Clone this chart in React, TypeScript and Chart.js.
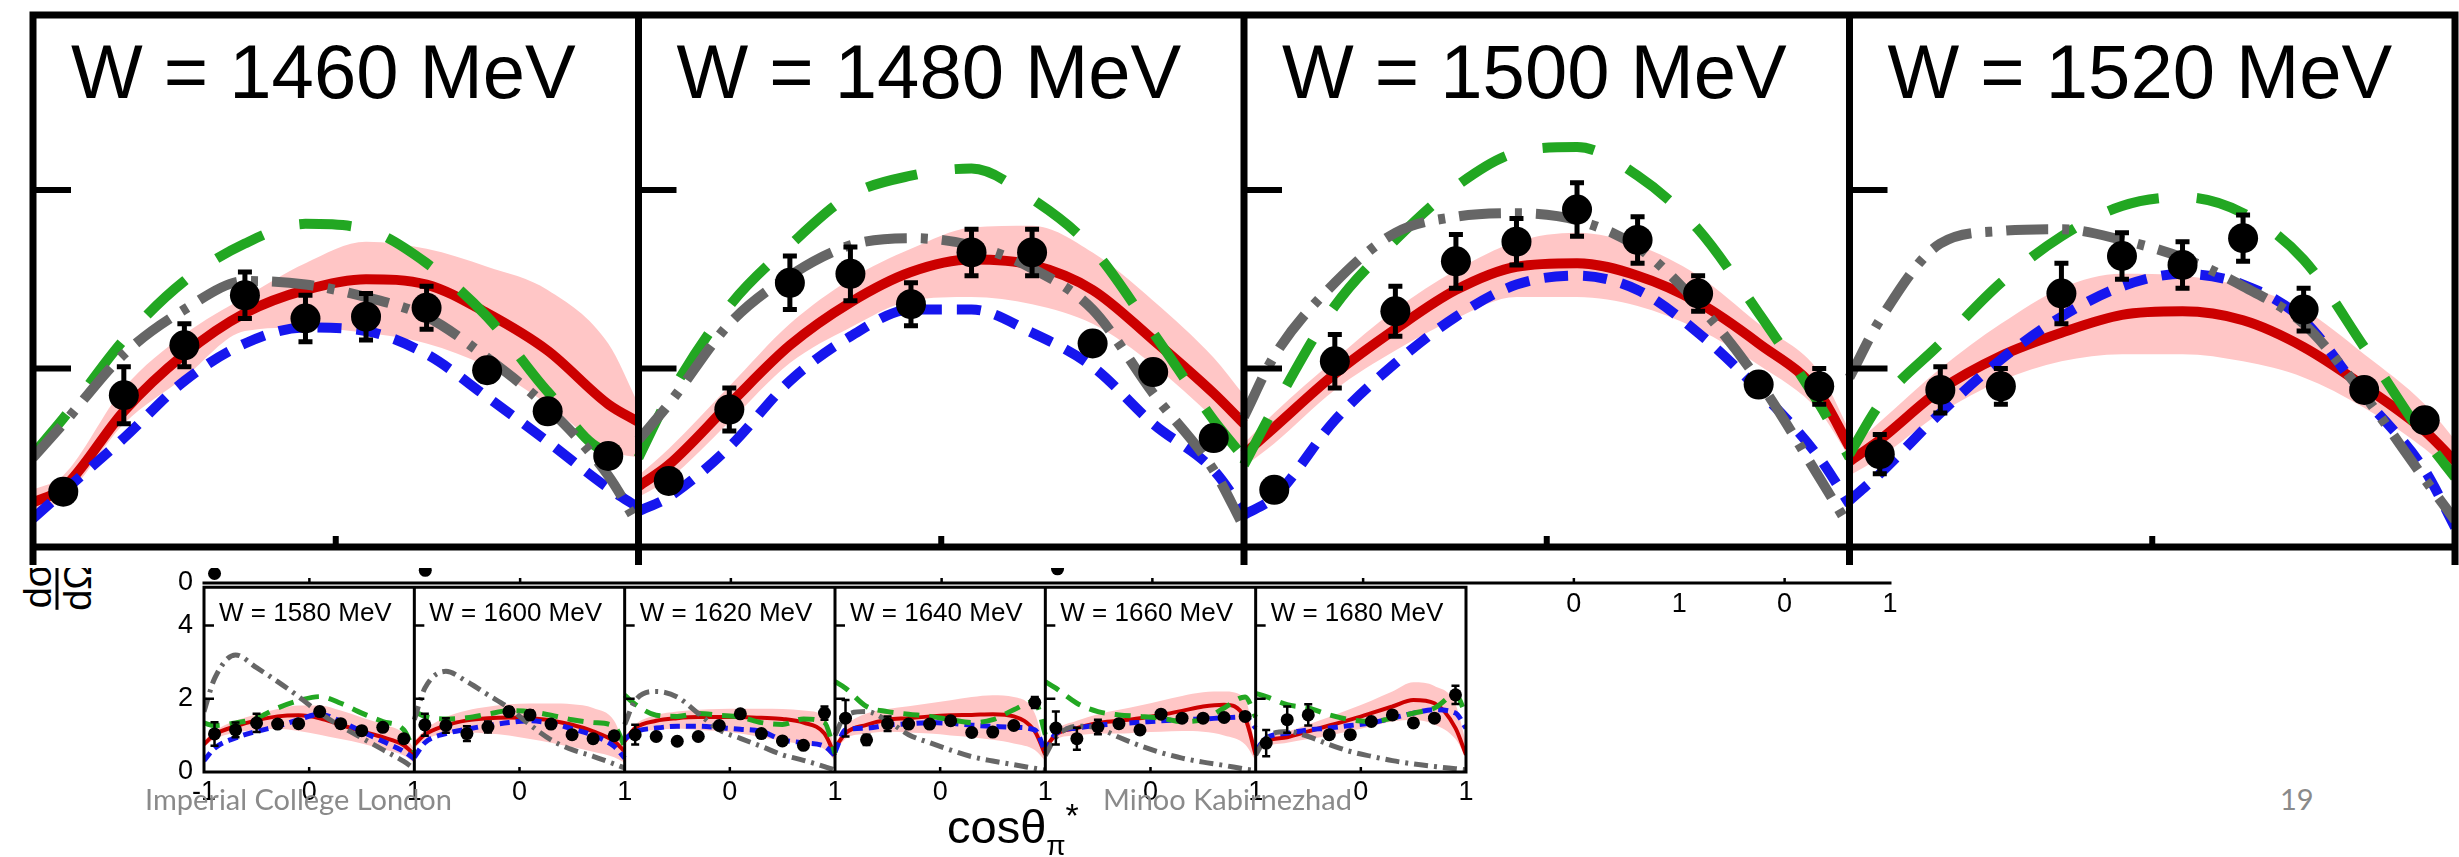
import React, { useEffect, useRef } from 'react';
import { Chart, registerables } from 'chart.js';

Chart.register(...registerables);

// ---------------- shared grids (cos theta) ----------------
const CURVE_COS = [-1, -0.9, -0.7, -0.5, -0.3, -0.1, 0.1, 0.3, 0.5, 0.7, 0.9, 1];
const POINT_COS = [-0.9, -0.7, -0.5, -0.3, -0.1, 0.1, 0.3, 0.5, 0.7, 0.9];

// ---------------- top row ----------------
const TOP_LABELS = ['W = 1460 MeV', 'W = 1480 MeV', 'W = 1500 MeV', 'W = 1520 MeV'];
const TOP_Y_TICKS = [1, 2];
const TOP_X_TICKS = [0];

const W1460_POINTS = [0.31, 0.85, 1.13, 1.41, 1.28, 1.29, 1.34, 0.99, 0.76, 0.51];
const W1460_ERRORS = [0.05, 0.16, 0.12, 0.13, 0.13, 0.13, 0.12, 0.06, 0.06, 0.05];
const W1460_RED = [0.25, 0.33, 0.76, 1.08, 1.31, 1.44, 1.5, 1.47, 1.31, 1.1, 0.8, 0.7];
const W1460_BAND_HI = [0.32, 0.4, 0.89, 1.19, 1.4, 1.59, 1.71, 1.67, 1.57, 1.44, 1.14, 0.8];
const W1460_BAND_LO = [0.2, 0.27, 0.69, 0.95, 1.21, 1.23, 1.2, 1.14, 1.01, 0.8, 0.54, 0.5];
const W1460_BLUE = [0.16, 0.31, 0.61, 0.93, 1.14, 1.23, 1.21, 1.08, 0.84, 0.59, 0.33, 0.22];
const W1460_GREEN = [0.52, 0.72, 1.16, 1.49, 1.7, 1.81, 1.78, 1.59, 1.29, 0.87, 0.54, 0.55];
const W1460_GRAY = [0.5, 0.69, 1.08, 1.33, 1.49, 1.47, 1.4, 1.29, 1.06, 0.78, 0.4, 0.12];

const W1480_POINTS = [0.37, 0.77, 1.48, 1.53, 1.36, 1.65, 1.65, 1.14, 0.98, 0.61];
const W1480_ERRORS = [0.05, 0.12, 0.15, 0.15, 0.12, 0.13, 0.13, 0.05, 0.05, 0.05];
const W1480_RED = [0.34, 0.46, 0.8, 1.13, 1.37, 1.54, 1.61, 1.58, 1.44, 1.16, 0.86, 0.69];
const W1480_BAND_HI = [0.4, 0.55, 0.9, 1.25, 1.5, 1.67, 1.79, 1.8, 1.65, 1.38, 1.06, 0.85];
const W1480_BAND_LO = [0.28, 0.38, 0.7, 1.03, 1.23, 1.38, 1.4, 1.36, 1.25, 1.02, 0.72, 0.55];
const W1480_BLUE = [0.2, 0.28, 0.56, 0.93, 1.18, 1.33, 1.33, 1.2, 1.01, 0.69, 0.43, 0.2];
const W1480_GREEN = [0.5, 0.84, 1.35, 1.69, 1.97, 2.08, 2.12, 1.95, 1.67, 1.2, 0.71, 0.5];
const W1480_GRAY = [0.6, 0.8, 1.25, 1.52, 1.69, 1.73, 1.69, 1.56, 1.33, 0.86, 0.43, 0.11];

const W1500_POINTS = [0.32, 1.04, 1.32, 1.6, 1.71, 1.89, 1.72, 1.42, 0.91, 0.9];
const W1500_ERRORS = [0.05, 0.15, 0.14, 0.15, 0.13, 0.15, 0.13, 0.1, 0.05, 0.1];
const W1500_RED = [0.52, 0.67, 0.97, 1.22, 1.44, 1.57, 1.59, 1.52, 1.37, 1.14, 0.86, 0.56];
const W1500_BAND_HI = [0.58, 0.75, 1.05, 1.33, 1.55, 1.71, 1.76, 1.69, 1.52, 1.25, 0.98, 0.65];
const W1500_BAND_LO = [0.45, 0.58, 0.88, 1.1, 1.28, 1.4, 1.4, 1.35, 1.22, 1.02, 0.76, 0.5];
const W1500_BLUE = [0.18, 0.28, 0.71, 1.03, 1.29, 1.47, 1.52, 1.44, 1.2, 0.88, 0.5, 0.24];
const W1500_GREEN = [0.46, 0.78, 1.35, 1.72, 2.02, 2.21, 2.24, 2.08, 1.78, 1.31, 0.8, 0.5];
const W1500_GRAY = [0.73, 1.07, 1.48, 1.76, 1.85, 1.87, 1.83, 1.68, 1.36, 0.93, 0.39, 0.11];

const W1520_POINTS = [0.52, 0.88, 0.9, 1.42, 1.63, 1.58, 1.73, 1.33, 0.88, 0.71];
const W1520_ERRORS = [0.11, 0.13, 0.1, 0.17, 0.13, 0.13, 0.13, 0.12, 0.05, 0.05];
const W1520_RED = [0.48, 0.6, 0.88, 1.07, 1.2, 1.3, 1.32, 1.27, 1.12, 0.9, 0.65, 0.48];
const W1520_BAND_HI = [0.55, 0.7, 1.0, 1.25, 1.45, 1.53, 1.52, 1.46, 1.33, 1.08, 0.8, 0.6];
const W1520_BAND_LO = [0.4, 0.5, 0.75, 0.93, 1.04, 1.08, 1.08, 1.04, 0.95, 0.78, 0.55, 0.4];
const W1520_BLUE = [0.26, 0.41, 0.75, 1.05, 1.29, 1.46, 1.53, 1.47, 1.27, 0.84, 0.43, 0.11];
const W1520_GREEN = [0.52, 0.8, 1.14, 1.48, 1.74, 1.91, 1.96, 1.87, 1.61, 1.12, 0.61, 0.39];
const W1520_GRAY = [0.95, 1.27, 1.7, 1.77, 1.78, 1.72, 1.62, 1.46, 1.25, 0.85, 0.38, 0.15];

// ---------------- bottom row ----------------
const BOTTOM_LABELS = ['W = 1580 MeV', 'W = 1600 MeV', 'W = 1620 MeV', 'W = 1640 MeV', 'W = 1660 MeV', 'W = 1680 MeV'];
const BOTTOM_Y_TICKS = [0, 2, 4];
const BOTTOM_X_TICKS = [-1, 0, 1];

const W1580_POINTS = [1.04, 1.15, 1.34, 1.31, 1.32, 1.65, 1.32, 1.13, 1.22, 0.91];
const W1580_ERRORS = [0.32, 0.2, 0.25, 0.1, 0.08, 0.1, 0.08, 0.08, 0.08, 0.08];
const W1580_RED = [0.76, 1.02, 1.25, 1.41, 1.52, 1.55, 1.47, 1.29, 1.11, 0.95, 0.73, 0.47];
const W1580_BAND_HI = [0.85, 1.12, 1.4, 1.58, 1.72, 1.82, 1.82, 1.68, 1.49, 1.3, 1.05, 0.6];
const W1580_BAND_LO = [0.68, 0.9, 1.08, 1.15, 1.18, 1.12, 1.02, 0.9, 0.78, 0.62, 0.45, 0.25];
const W1580_BLUE = [0.31, 0.65, 0.93, 1.11, 1.25, 1.43, 1.58, 1.38, 1.11, 0.84, 0.56, 0.36];
const W1580_GREEN = [1.34, 1.27, 1.34, 1.47, 1.75, 1.95, 2.06, 1.88, 1.61, 1.38, 1.15, 0.56];
const W1580_GRAY = [1.65, 2.55, 3.2, 2.85, 2.47, 2.06, 1.61, 1.25, 0.93, 0.61, 0.29, 0.09];

const W1600_POINTS = [1.29, 1.27, 1.05, 1.23, 1.65, 1.56, 1.31, 1.02, 0.91, 0.99];
const W1600_ERRORS = [0.3, 0.2, 0.2, 0.15, 0.12, 0.12, 0.08, 0.08, 0.08, 0.08];
const W1600_RED = [0.75, 1.02, 1.27, 1.41, 1.47, 1.49, 1.47, 1.41, 1.29, 1.11, 0.84, 0.56];
const W1600_BAND_HI = [0.85, 1.15, 1.5, 1.68, 1.78, 1.85, 1.87, 1.87, 1.85, 1.75, 1.4, 0.7];
const W1600_BAND_LO = [0.65, 0.88, 1.05, 1.08, 1.05, 1.0, 0.9, 0.8, 0.68, 0.55, 0.4, 0.25];
const W1600_BLUE = [0.4, 0.8, 1.05, 1.17, 1.27, 1.35, 1.4, 1.33, 1.18, 1.0, 0.7, 0.38];
const W1600_GREEN = [1.65, 1.52, 1.45, 1.48, 1.58, 1.68, 1.65, 1.55, 1.43, 1.35, 1.25, 0.7];
const W1600_GRAY = [1.43, 2.29, 2.75, 2.47, 2.11, 1.75, 1.29, 0.88, 0.61, 0.43, 0.22, 0.11];

const W1620_POINTS = [1.02, 0.97, 0.84, 0.97, 1.27, 1.59, 1.05, 0.85, 0.73, 1.61];
const W1620_ERRORS = [0.27, 0.08, 0.08, 0.08, 0.08, 0.1, 0.08, 0.08, 0.08, 0.18];
const W1620_RED = [0.85, 1.2, 1.4, 1.47, 1.5, 1.5, 1.5, 1.48, 1.45, 1.35, 1.05, 0.45];
const W1620_BAND_HI = [0.95, 1.3, 1.55, 1.65, 1.7, 1.72, 1.73, 1.73, 1.72, 1.68, 1.5, 0.6];
const W1620_BAND_LO = [0.75, 1.05, 1.15, 1.18, 1.15, 1.12, 1.05, 0.95, 0.85, 0.75, 0.62, 0.3];
const W1620_BLUE = [0.9, 1.1, 1.2, 1.25, 1.25, 1.21, 1.17, 1.11, 0.88, 0.8, 0.7, 0.45];
const W1620_GREEN = [2.1, 1.85, 1.55, 1.52, 1.6, 1.55, 1.5, 1.35, 1.3, 1.45, 1.35, 0.5];
const W1620_GRAY = [1.3, 1.95, 2.2, 2.05, 1.6, 1.15, 0.92, 0.7, 0.47, 0.32, 0.15, 0.05];

const W1640_POINTS = [1.47, 0.88, 1.32, 1.31, 1.31, 1.4, 1.08, 1.09, 1.27, 1.9];
const W1640_ERRORS = [0.5, 0.14, 0.2, 0.08, 0.08, 0.08, 0.08, 0.08, 0.08, 0.15];
const W1640_RED = [0.65, 1.06, 1.29, 1.43, 1.47, 1.52, 1.55, 1.56, 1.58, 1.52, 1.11, 0.47];
const W1640_BAND_HI = [0.75, 1.25, 1.6, 1.72, 1.8, 1.88, 1.96, 2.05, 2.1, 2.05, 1.6, 0.55];
const W1640_BAND_LO = [0.55, 0.9, 1.05, 1.1, 1.08, 1.05, 1.0, 0.95, 0.88, 0.78, 0.6, 0.3];
const W1640_BLUE = [0.55, 1.15, 1.2, 1.28, 1.32, 1.35, 1.33, 1.28, 1.25, 1.22, 1.15, 0.55];
const W1640_GREEN = [2.47, 2.29, 1.79, 1.65, 1.58, 1.52, 1.43, 1.35, 1.43, 1.7, 1.93, 1.02];
const W1640_GRAY = [1.0, 1.55, 1.65, 1.4, 1.02, 0.8, 0.6, 0.42, 0.3, 0.2, 0.1, 0.05];

const W1660_POINTS = [1.2, 0.91, 1.23, 1.32, 1.15, 1.58, 1.47, 1.47, 1.49, 1.52];
const W1660_ERRORS = [0.45, 0.3, 0.2, 0.08, 0.08, 0.08, 0.08, 0.08, 0.08, 0.08];
const W1660_RED = [0.65, 1.02, 1.2, 1.34, 1.4, 1.47, 1.56, 1.67, 1.79, 1.84, 1.47, 0.47];
const W1660_BAND_HI = [0.75, 1.15, 1.4, 1.58, 1.7, 1.82, 1.95, 2.08, 2.18, 2.2, 2.0, 0.6];
const W1660_BAND_LO = [0.55, 0.9, 1.0, 1.05, 1.05, 1.08, 1.1, 1.12, 1.1, 1.0, 0.75, 0.3];
const W1660_BLUE = [0.55, 1.05, 1.2, 1.28, 1.32, 1.36, 1.4, 1.43, 1.45, 1.48, 1.5, 1.2];
const W1660_GREEN = [2.47, 2.29, 1.88, 1.65, 1.56, 1.52, 1.47, 1.38, 1.43, 1.75, 2.05, 1.5];
const W1660_GRAY = [0.45, 0.95, 1.25, 1.2, 0.95, 0.72, 0.53, 0.38, 0.27, 0.18, 0.08, 0.04];

const W1680_POINTS = [0.79, 1.43, 1.56, 1.02, 1.02, 1.38, 1.56, 1.34, 1.47, 2.11];
const W1680_ERRORS = [0.36, 0.36, 0.29, 0.08, 0.08, 0.08, 0.08, 0.08, 0.08, 0.25];
const W1680_RED = [0.61, 0.84, 0.95, 1.11, 1.27, 1.43, 1.61, 1.79, 1.97, 1.88, 1.2, 0.47];
const W1680_BAND_HI = [0.7, 0.95, 1.1, 1.3, 1.5, 1.72, 1.95, 2.2, 2.45, 2.35, 1.85, 0.8];
const W1680_BAND_LO = [0.5, 0.7, 0.8, 0.9, 1.0, 1.12, 1.25, 1.38, 1.42, 1.3, 0.9, 0.4];
const W1680_BLUE = [0.56, 0.93, 1.06, 1.15, 1.2, 1.27, 1.34, 1.47, 1.61, 1.7, 1.61, 1.2];
const W1680_GREEN = [2.15, 2.06, 1.84, 1.75, 1.56, 1.43, 1.38, 1.47, 1.61, 1.75, 2.11, 1.56];
const W1680_GRAY = [0.47, 0.93, 1.11, 0.97, 0.75, 0.56, 0.43, 0.31, 0.22, 0.15, 0.09, 0.06];

// ---------------- remnant axis of a hidden row ----------------
const REMNANT_X_TICKS = [12, 13, 14, 15];
const REMNANT_X_LABELS = ['0', '1', '0', '1'];
const REMNANT_Y_TICKS = [0];
const REMNANT_POINTS_U = [-0.9, 1.1, 7.1];
const REMNANT_POINTS_Y = [0.6, 0.8, 0.9];

const COLORS = {
  red: '#cc0000',
  band: '#ffc6c6',
  blue: '#1616ee',
  green: '#22a722',
  gray: '#666666',
};

type Panel = {
  points: number[]; errors: number[]; red: number[]; hi: number[]; lo: number[];
  blue: number[]; green: number[]; gray: number[];
};

const TOP_PANELS: Panel[] = [
  { points: W1460_POINTS, errors: W1460_ERRORS, red: W1460_RED, hi: W1460_BAND_HI, lo: W1460_BAND_LO, blue: W1460_BLUE, green: W1460_GREEN, gray: W1460_GRAY },
  { points: W1480_POINTS, errors: W1480_ERRORS, red: W1480_RED, hi: W1480_BAND_HI, lo: W1480_BAND_LO, blue: W1480_BLUE, green: W1480_GREEN, gray: W1480_GRAY },
  { points: W1500_POINTS, errors: W1500_ERRORS, red: W1500_RED, hi: W1500_BAND_HI, lo: W1500_BAND_LO, blue: W1500_BLUE, green: W1500_GREEN, gray: W1500_GRAY },
  { points: W1520_POINTS, errors: W1520_ERRORS, red: W1520_RED, hi: W1520_BAND_HI, lo: W1520_BAND_LO, blue: W1520_BLUE, green: W1520_GREEN, gray: W1520_GRAY },
];

const BOTTOM_PANELS: Panel[] = [
  { points: W1580_POINTS, errors: W1580_ERRORS, red: W1580_RED, hi: W1580_BAND_HI, lo: W1580_BAND_LO, blue: W1580_BLUE, green: W1580_GREEN, gray: W1580_GRAY },
  { points: W1600_POINTS, errors: W1600_ERRORS, red: W1600_RED, hi: W1600_BAND_HI, lo: W1600_BAND_LO, blue: W1600_BLUE, green: W1600_GREEN, gray: W1600_GRAY },
  { points: W1620_POINTS, errors: W1620_ERRORS, red: W1620_RED, hi: W1620_BAND_HI, lo: W1620_BAND_LO, blue: W1620_BLUE, green: W1620_GREEN, gray: W1620_GRAY },
  { points: W1640_POINTS, errors: W1640_ERRORS, red: W1640_RED, hi: W1640_BAND_HI, lo: W1640_BAND_LO, blue: W1640_BLUE, green: W1640_GREEN, gray: W1640_GRAY },
  { points: W1660_POINTS, errors: W1660_ERRORS, red: W1660_RED, hi: W1660_BAND_HI, lo: W1660_BAND_LO, blue: W1660_BLUE, green: W1660_GREEN, gray: W1660_GRAY },
  { points: W1680_POINTS, errors: W1680_ERRORS, red: W1680_RED, hi: W1680_BAND_HI, lo: W1680_BAND_LO, blue: W1680_BLUE, green: W1680_GREEN, gray: W1680_GRAY },
];

type Style = {
  radius: number; red: number; blue: number; green: number; gray: number;
  blueDash: number[]; greenDash: number[]; grayDash: number[];
};

const TOP_STYLE: Style = {
  radius: 15, red: 10, blue: 10, green: 10, gray: 10,
  blueDash: [24, 15], greenDash: [52, 38], grayDash: [42, 14, 7, 14],
};
const BOTTOM_STYLE: Style = {
  radius: 6.5, red: 4, blue: 5, green: 5, gray: 5,
  blueDash: [10, 6], greenDash: [16, 10], grayDash: [14, 6, 3, 6],
};

function toXY(cos: number[], vals: number[], k: number) {
  return vals.map((v, i) => ({ x: 2 * k + cos[i], y: v }));
}

function buildDatasets(panels: Panel[], s: Style) {
  const ds: any[] = [];
  panels.forEach((p, k) => {
    ds.push({
      type: 'line', showLine: false, data: toXY(POINT_COS, p.points, k), errorBars: p.errors,
      pointRadius: s.radius, pointBackgroundColor: '#000', pointBorderColor: '#000', pointBorderWidth: 0,
      order: 0,
    });
  });
  const curve = (key: 'gray' | 'green' | 'blue' | 'red', color: string, width: number, dash: number[], order: number) => {
    panels.forEach((p, k) => {
      ds.push({
        type: 'line', data: toXY(CURVE_COS, p[key], k), borderColor: color, borderWidth: width,
        borderDash: dash, borderCapStyle: 'butt', pointRadius: 0, fill: false,
        cubicInterpolationMode: 'monotone', order,
      });
    });
  };
  curve('gray', COLORS.gray, s.gray, s.grayDash, 1);
  curve('green', COLORS.green, s.green, s.greenDash, 2);
  curve('blue', COLORS.blue, s.blue, s.blueDash, 3);
  curve('red', COLORS.red, s.red, [], 4);
  panels.forEach((p, k) => {
    ds.push({
      type: 'line', data: toXY(CURVE_COS, p.hi, k), borderWidth: 0, borderColor: 'rgba(0,0,0,0)',
      backgroundColor: COLORS.band, pointRadius: 0, fill: '+1', cubicInterpolationMode: 'monotone', order: 5,
    });
    ds.push({
      type: 'line', data: toXY(CURVE_COS, p.lo, k), borderWidth: 0, borderColor: 'rgba(0,0,0,0)',
      pointRadius: 0, fill: false, cubicInterpolationMode: 'monotone', order: 6,
    });
  });
  return ds;
}

const errorBarPlugin = {
  id: 'errorBars',
  afterDatasetsDraw(chart: any, _args: any, opts: any) {
    const { ctx } = chart;
    const xs = chart.scales.x;
    const ys = chart.scales.y;
    ctx.save();
    ctx.strokeStyle = '#000';
    ctx.lineWidth = opts.lineWidth;
    chart.data.datasets.forEach((d: any) => {
      if (!d.errorBars) return;
      d.data.forEach((pt: any, i: number) => {
        const e = d.errorBars[i];
        const x = xs.getPixelForValue(pt.x);
        const y1 = ys.getPixelForValue(pt.y + e);
        const y2 = ys.getPixelForValue(pt.y - e);
        ctx.beginPath();
        ctx.moveTo(x, y1); ctx.lineTo(x, y2);
        ctx.moveTo(x - opts.cap, y1); ctx.lineTo(x + opts.cap, y1);
        ctx.moveTo(x - opts.cap, y2); ctx.lineTo(x + opts.cap, y2);
        ctx.stroke();
      });
    });
    ctx.restore();
  },
};

const topFramePlugin = {
  id: 'topFrame',
  afterDatasetsDraw(chart: any) {
    const { ctx, chartArea: a } = chart;
    const xs = chart.scales.x;
    const ys = chart.scales.y;
    const n = TOP_LABELS.length;
    ctx.save();
    ctx.strokeStyle = '#000';
    ctx.lineWidth = 7;
    ctx.beginPath();
    ctx.moveTo(a.left - 3.5, a.top); ctx.lineTo(a.right + 3.5, a.top);
    ctx.moveTo(a.left - 3.5, a.bottom); ctx.lineTo(a.right + 3.5, a.bottom);
    for (let k = 0; k <= n; k++) {
      const px = xs.getPixelForValue(2 * k - 1);
      ctx.moveTo(px, a.top - 3.5); ctx.lineTo(px, a.bottom + 18);
    }
    ctx.stroke();
    ctx.lineWidth = 6;
    ctx.beginPath();
    for (let k = 0; k < n; k++) {
      const left = xs.getPixelForValue(2 * k - 1);
      TOP_Y_TICKS.forEach((v) => { const py = ys.getPixelForValue(v); ctx.moveTo(left, py); ctx.lineTo(left + 38, py); });
      TOP_X_TICKS.forEach((c) => { const px = xs.getPixelForValue(2 * k + c); ctx.moveTo(px, a.bottom); ctx.lineTo(px, a.bottom - 11); });
    }
    ctx.stroke();
    ctx.fillStyle = '#000';
    ctx.font = '76px "Liberation Sans", Arial, sans-serif';
    ctx.textBaseline = 'alphabetic';
    ctx.textAlign = 'left';
    TOP_LABELS.forEach((t, k) => ctx.fillText(t, xs.getPixelForValue(2 * k - 1) + 38, a.top + 83));
    ctx.restore();
  },
};

const bottomFramePlugin = {
  id: 'bottomFrame',
  afterDatasetsDraw(chart: any) {
    const { ctx, chartArea: a } = chart;
    const xs = chart.scales.x;
    const ys = chart.scales.y;
    const n = BOTTOM_LABELS.length;
    ctx.save();
    ctx.strokeStyle = '#000';
    ctx.lineWidth = 3;
    ctx.beginPath();
    ctx.moveTo(a.left - 1.5, a.top); ctx.lineTo(a.right + 1.5, a.top);
    ctx.moveTo(a.left - 1.5, a.bottom); ctx.lineTo(a.right + 1.5, a.bottom);
    for (let k = 0; k <= n; k++) {
      const px = xs.getPixelForValue(2 * k - 1);
      ctx.moveTo(px, a.top); ctx.lineTo(px, a.bottom);
    }
    ctx.stroke();
    ctx.lineWidth = 2.5;
    ctx.beginPath();
    for (let k = 0; k < n; k++) {
      const left = xs.getPixelForValue(2 * k - 1);
      BOTTOM_Y_TICKS.filter((v) => v > 0).forEach((v) => {
        const py = ys.getPixelForValue(v); ctx.moveTo(left, py); ctx.lineTo(left + 10, py);
      });
      const cx = xs.getPixelForValue(2 * k);
      ctx.moveTo(cx, a.bottom); ctx.lineTo(cx, a.bottom - 5);
    }
    ctx.stroke();
    ctx.fillStyle = '#000';
    ctx.font = '26px "Liberation Sans", Arial, sans-serif';
    ctx.textBaseline = 'alphabetic';
    ctx.textAlign = 'left';
    BOTTOM_LABELS.forEach((t, k) => ctx.fillText(t, xs.getPixelForValue(2 * k - 1) + 15, a.top + 34));
    ctx.restore();
  },
};

const remnantFramePlugin = {
  id: 'remnantFrame',
  afterDraw(chart: any) {
    const { ctx, chartArea: a } = chart;
    const xs = chart.scales.x;
    ctx.save();
    ctx.strokeStyle = '#000';
    ctx.lineWidth = 3;
    ctx.beginPath();
    ctx.moveTo(a.left - 1.5, a.bottom); ctx.lineTo(a.right + 1.5, a.bottom);
    ctx.stroke();
    ctx.lineWidth = 2.5;
    ctx.beginPath();
    for (let u = 0; u < 15; u += 2) {
      const px = xs.getPixelForValue(u);
      ctx.moveTo(px, a.bottom); ctx.lineTo(px, a.bottom - 5);
    }
    ctx.stroke();
    ctx.restore();
  },
};

const TICK_FONT = { family: '"Liberation Sans", Arial, sans-serif', size: 27 };

function topConfig(): any {
  return {
    type: 'line',
    data: { datasets: buildDatasets(TOP_PANELS, TOP_STYLE) },
    options: {
      responsive: false, animation: false, devicePixelRatio: 1, events: [],
      layout: { padding: { left: 33, right: 9, top: 15, bottom: 21 } },
      scales: {
        x: { type: 'linear', min: -1, max: 2 * TOP_PANELS.length - 1, display: false },
        y: { type: 'linear', min: 0, max: 2.98, display: false },
      },
      plugins: { legend: { display: false }, tooltip: { enabled: false }, errorBars: { lineWidth: 5, cap: 7 } },
    },
    plugins: [errorBarPlugin, topFramePlugin],
  };
}

function bottomConfig(): any {
  return {
    type: 'line',
    data: { datasets: buildDatasets(BOTTOM_PANELS, BOTTOM_STYLE) },
    options: {
      responsive: false, animation: false, devicePixelRatio: 1, events: [],
      layout: { padding: { left: 44, right: 34, top: 23, bottom: 45 } },
      scales: {
        x: {
          type: 'linear', min: -1, max: 2 * BOTTOM_PANELS.length - 1,
          grid: { display: false, drawTicks: false }, border: { display: false },
          afterBuildTicks: (scale: any) => {
            const t: any[] = [];
            BOTTOM_PANELS.forEach((_p, k) => BOTTOM_X_TICKS.forEach((c) => {
              if (k > 0 && c === -1) return;
              t.push({ value: 2 * k + c });
            }));
            scale.ticks = t;
          },
          afterFit: (scale: any) => { scale.height = 40; },
          ticks: {
            autoSkip: false, maxRotation: 0, padding: 4, color: '#000', font: TICK_FONT,
            callback: (v: number) => (v === -1 ? '-1' : (((v % 2) + 2) % 2 === 0 ? '0' : '1')),
          },
        },
        y: {
          type: 'linear', min: 0, max: 5.05,
          grid: { display: false, drawTicks: false }, border: { display: false },
          afterBuildTicks: (scale: any) => { scale.ticks = BOTTOM_Y_TICKS.map((v) => ({ value: v })); },
          afterFit: (scale: any) => { scale.width = 60; },
          ticks: { padding: 11, color: '#000', font: TICK_FONT, callback: (v: number) => String(v) },
        },
      },
      plugins: { legend: { display: false }, tooltip: { enabled: false }, errorBars: { lineWidth: 2.5, cap: 4 } },
    },
    plugins: [errorBarPlugin, bottomFramePlugin],
  };
}

function remnantConfig(): any {
  return {
    type: 'line',
    data: {
      datasets: [{
        type: 'line', showLine: false,
        data: REMNANT_POINTS_U.map((u, i) => ({ x: u, y: REMNANT_POINTS_Y[i] })),
        pointRadius: 6.5, pointBackgroundColor: '#000', pointBorderWidth: 0, clip: 0,
      }],
    },
    options: {
      responsive: false, animation: false, devicePixelRatio: 1, events: [],
      layout: { padding: { left: 44, right: 60, top: 27, bottom: 17 } },
      scales: {
        x: {
          type: 'linear', min: -1, max: 15,
          grid: { display: false, drawTicks: false }, border: { display: false },
          afterBuildTicks: (scale: any) => { scale.ticks = REMNANT_X_TICKS.map((v) => ({ value: v })); },
          afterFit: (scale: any) => { scale.height = 40; },
          ticks: {
            autoSkip: false, maxRotation: 0, padding: 5, color: '#000', font: TICK_FONT,
            callback: (v: number) => REMNANT_X_LABELS[REMNANT_X_TICKS.indexOf(v)] ?? '',
          },
        },
        y: {
          type: 'linear', min: 0, max: 1,
          grid: { display: false, drawTicks: false }, border: { display: false },
          afterBuildTicks: (scale: any) => { scale.ticks = REMNANT_Y_TICKS.map((v) => ({ value: v })); },
          afterFit: (scale: any) => { scale.width = 60; },
          ticks: { padding: 11, color: '#000', font: TICK_FONT, callback: (v: number) => String(v) },
        },
      },
      plugins: { legend: { display: false }, tooltip: { enabled: false } },
    },
    plugins: [remnantFramePlugin],
  };
}

function ChartCanvas({ width, height, config }: { width: number; height: number; config: () => any }) {
  const ref = useRef<HTMLCanvasElement>(null);
  useEffect(() => {
    const chart = new Chart(ref.current as HTMLCanvasElement, config());
    return () => chart.destroy();
  }, []);
  return <canvas ref={ref} width={width} height={height} style={{ display: 'block', width, height }} />;
}

const footerStyle: React.CSSProperties = {
  position: 'absolute', fontFamily: 'Lato, "Open Sans", sans-serif', fontSize: 29, lineHeight: '29px',
  color: '#8a8a8a', whiteSpace: 'nowrap',
};

export default function App() {
  return (
    <div style={{ position: 'fixed', left: 0, top: 0, width: 2459, height: 857, overflow: 'hidden', background: '#fff' }}>
      {/* remnant axis of a hidden row */}
      <div style={{ position: 'absolute', left: 100, top: 540, zIndex: 1 }}>
        <ChartCanvas width={1850} height={100} config={remnantConfig} />
      </div>
      {/* y-axis title dσ/dΩ */}
      <div
        style={{
          position: 'absolute', left: 58, top: 586, zIndex: 1,
          transform: 'translate(-50%, -50%) rotate(-90deg)',
          fontFamily: '"Liberation Sans", Arial, sans-serif', fontSize: 38, color: '#000',
          display: 'flex', flexDirection: 'column', alignItems: 'center',
        }}
      >
        <span style={{ lineHeight: '36px', whiteSpace: 'nowrap' }}>dσ</span>
        <span style={{ display: 'block', width: 48, height: 3, background: '#000' }} />
        <span style={{ lineHeight: '38px', whiteSpace: 'nowrap' }}>dΩ</span>
      </div>
      {/* bottom row */}
      <div style={{ position: 'absolute', left: 100, top: 560, zIndex: 2 }}>
        <ChartCanvas width={1400} height={297} config={bottomConfig} />
      </div>
      {/* top row */}
      <div style={{ position: 'absolute', left: 0, top: 0, width: 2459, height: 568, overflow: 'hidden', background: '#fff', zIndex: 3 }}>
        <ChartCanvas width={2470} height={568} config={topConfig} />
      </div>
      {/* x-axis title */}
      <div
        style={{
          position: 'absolute', left: 947, top: 804, zIndex: 4,
          fontFamily: '"Liberation Sans", Arial, sans-serif', fontSize: 47, lineHeight: '46px', color: '#000', whiteSpace: 'nowrap',
        }}
      >
        cosθ<span style={{ fontSize: 28, position: 'relative', top: 12 }}>π</span>
        <span style={{ fontSize: 34, position: 'relative', top: -16 }}>*</span>
      </div>
      {/* footer */}
      <div style={{ ...footerStyle, left: 145, top: 784, zIndex: 5 }}>Imperial College London</div>
      <div style={{ ...footerStyle, left: 1103, top: 784, zIndex: 5 }}>Minoo Kabirnezhad</div>
      <div style={{ ...footerStyle, left: 2280, top: 784, zIndex: 5 }}>19</div>
    </div>
  );
}
